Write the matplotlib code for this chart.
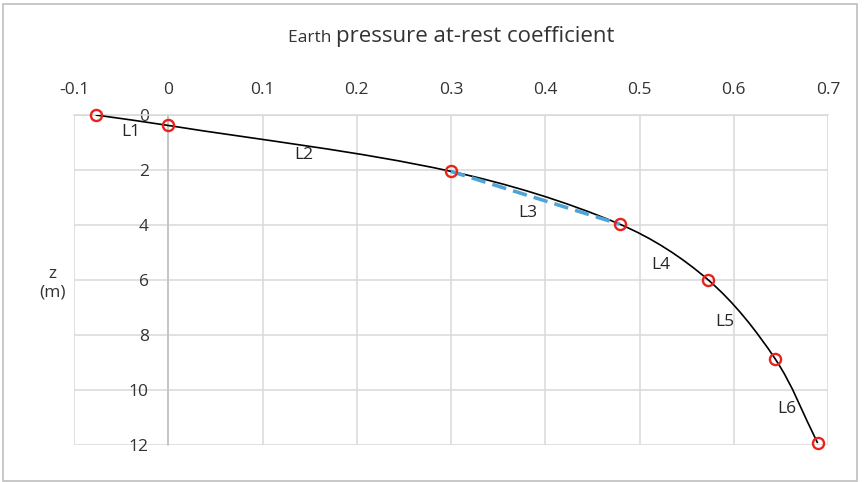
import numpy as np
import matplotlib.pyplot as plt
from matplotlib.path import Path
from matplotlib.patches import PathPatch, Rectangle

# data
k0 = [-0.077, 0.0, 0.300, 0.479, 0.573, 0.644, 0.689]
depth = [0.0, 0.38, 2.05, 3.97, 6.0, 8.87, 11.93]

layer_names = ["L1", "L2", "L3", "L4", "L5", "L6"]
label_x = [-0.04, 0.144, 0.381, 0.523, 0.591, 0.656]
label_z = [0.62, 1.45, 3.56, 5.45, 7.53, 10.7]

chord_x = [0.300, 0.479]
chord_z = [2.05, 3.97]

xticks = [-0.1, 0, 0.1, 0.2, 0.3, 0.4, 0.5, 0.6, 0.7]
yticks = [0, 2, 4, 6, 8, 10, 12]

FONT = "Open Sans"
plt.rcParams["font.family"] = [FONT, "DejaVu Sans"]
TXT = "#333333"


def smooth_path(xs, zs, sx, sz):
    # bezier segments through the points (smoothed scatter line),
    # tangents worked out in screen-like units so the curve has no kinks
    pts = np.column_stack([np.asarray(xs) * sx, np.asarray(zs) * sz])
    n = len(pts)
    tang = []
    for i in range(n):
        a = pts[max(i - 1, 0)]
        b = pts[min(i + 1, n - 1)]
        d = b - a
        tang.append(d / np.hypot(*d))
    verts = [pts[0]]
    codes = [Path.MOVETO]
    for i in range(n - 1):
        L = np.hypot(*(pts[i + 1] - pts[i])) / 3.0
        verts += [pts[i] + tang[i] * L, pts[i + 1] - tang[i + 1] * L, pts[i + 1]]
        codes += [Path.CURVE4] * 3
    verts = np.array(verts) / [sx, sz]
    return Path(verts, codes)


fig = plt.figure(figsize=(8.64, 4.82), dpi=100)
ax = fig.add_axes([74 / 864, 1 - 445 / 482, (828 - 74) / 864, (445 - 115) / 482])

ax.set_xlim(-0.1, 0.7)
ax.set_ylim(12, 0)
ax.set_xticks(xticks)
ax.set_yticks(yticks)
ax.set_xticklabels([f"{t:g}" for t in xticks])
ax.xaxis.tick_top()
ax.tick_params(axis="both", length=0, labelsize=12.5, colors=TXT)
ax.tick_params(axis="x", pad=12)
ax.tick_params(axis="y", pad=14)

ax.grid(True, color="#d9d9d9", linewidth=1.1)
ax.set_axisbelow(True)
for s in ["right", "bottom"]:
    ax.spines[s].set_visible(False)
ax.spines["top"].set_color("#d9d9d9")
ax.spines["top"].set_linewidth(1.1)
ax.spines["left"].set_position(("data", 0))
ax.spines["left"].set_color("#bfbfbf")
ax.spines["left"].set_linewidth(1.1)

ax.add_patch(PathPatch(smooth_path(k0, depth, 942.0, 27.5), fill=False,
                       edgecolor="black", linewidth=1.2, zorder=3))
ax.plot(chord_x, chord_z, color="#4ea5d6", linewidth=2.6, dashes=(4, 2), zorder=4)
ax.plot(k0, depth, linestyle="none", marker="o", markersize=8, markerfacecolor="none",
        markeredgecolor="#e8231c", markeredgewidth=1.7, zorder=5, clip_on=False)

for name, lx, lz in zip(layer_names, label_x, label_z):
    ax.text(lx, lz, name, fontsize=12.5, color="#262626", ha="center", va="center", zorder=6)

fig.text(52 / 864, 1 - 283 / 482, "z\n(m)", fontsize=12.5, color=TXT,
         ha="center", va="center", linespacing=1.25)

# title with a smaller first word
t1 = fig.text(0, 1 - 42 / 482, "Earth ", fontsize=12.5, color=TXT, va="baseline")
t2 = fig.text(0, 1 - 42 / 482, "pressure at-rest coefficient", fontsize=16, color=TXT, va="baseline")
fig.canvas.draw()
r = fig.canvas.get_renderer()
w1 = t1.get_window_extent(r).width / 864
w2 = t2.get_window_extent(r).width / 864
x0 = 451 / 864 - (w1 + w2) / 2
t1.set_x(x0)
t2.set_x(x0 + w1)

fig.patches.append(Rectangle((3 / 864, 1 - 481 / 482), 854 / 864, 477 / 482, transform=fig.transFigure,
                             fill=False, edgecolor="#bfbfbf", linewidth=1.2))

fig.savefig("out.png", dpi=100)
